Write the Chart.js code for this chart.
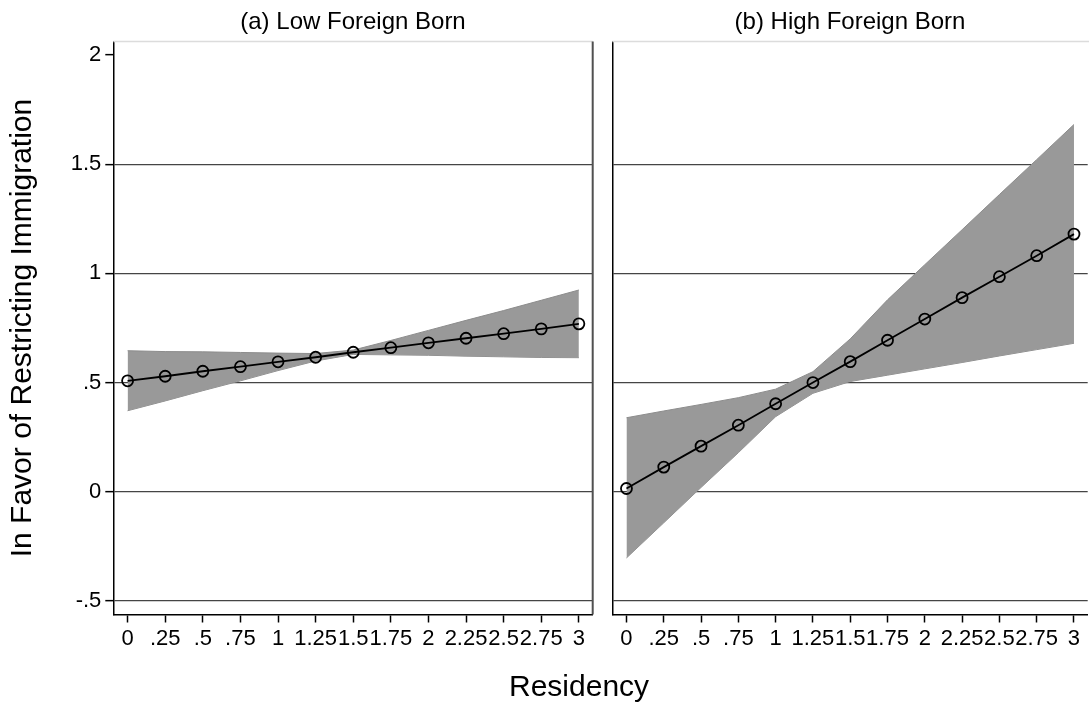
<!DOCTYPE html>
<html>
<head>
<meta charset="utf-8">
<script src="https://cdn.jsdelivr.net/npm/chart.js@4.4.1/dist/chart.umd.min.js"></script>
<style>
  html, body { margin: 0; padding: 0; background: #fff; overflow: hidden; }
  #wrap { position: relative; width: 1089px; height: 704px; overflow: hidden; }
  #left { position: absolute; left: 0; top: 0; }
  #right { position: absolute; left: 600px; top: 0; }
  #xtitle {
    position: absolute; left: 509px; top: 669px;
    line-height: 1; color: #000; white-space: nowrap;
    font: 30px "Liberation Sans", Arial, sans-serif;
  }
</style>
</head>
<body>
<div id="wrap">
  <canvas id="left" width="600" height="704"></canvas>
  <canvas id="right" width="495" height="704"></canvas>
  <div id="xtitle">Residency</div>
</div>
<script>
// x values (residency) and their tick labels
const residency = [0, 0.25, 0.5, 0.75, 1, 1.25, 1.5, 1.75, 2, 2.25, 2.5, 2.75, 3]
const xTickLabels = ['0', '.25', '.5', '.75', '1', '1.25', '1.5', '1.75', '2', '2.25', '2.5', '2.75', '3']
const yTicks = [-0.5, 0, 0.5, 1, 1.5, 2]
const yTickLabels = ['-.5', '0', '.5', '1', '1.5', '2']

// (a) Low Foreign Born
const lowPred  = [0.508, 0.529, 0.552, 0.573, 0.595, 0.616, 0.639, 0.660, 0.682, 0.703, 0.724, 0.746, 0.769]
const lowUpper = [0.646, 0.642, 0.641, 0.638, 0.635, 0.633, 0.649, 0.693, 0.739, 0.785, 0.830, 0.877, 0.924]
const lowLower = [0.371, 0.416, 0.463, 0.508, 0.555, 0.599, 0.629, 0.627, 0.625, 0.621, 0.618, 0.615, 0.614]

// (b) High Foreign Born
const highPred  = [0.015, 0.113, 0.209, 0.305, 0.403, 0.500, 0.596, 0.694, 0.791, 0.889, 0.985, 1.081, 1.180]
const highUpper = [0.339, 0.370, 0.400, 0.431, 0.470, 0.550, 0.700, 0.879, 1.040, 1.200, 1.361, 1.521, 1.682]
const highLower = [-0.303, -0.142, 0.020, 0.179, 0.344, 0.451, 0.505, 0.534, 0.563, 0.592, 0.622, 0.651, 0.680]

const FONT = '"Liberation Sans", Arial, sans-serif'

const toPoints = (ys) => residency.map((x, i) => ({ x: x, y: ys[i] }))

// panel title + top frame line (+ right edge for the left panel)
const panelDecor = {
  id: 'panelDecor',
  afterDraw(chart, args, opts) {
    const { ctx, chartArea: a } = chart
    ctx.save()
    ctx.strokeStyle = '#dcdcdc'
    ctx.lineWidth = 1.5
    ctx.beginPath()
    ctx.moveTo(a.left, a.top)
    ctx.lineTo(opts.rightEdge ? a.right : chart.width, a.top)
    ctx.stroke()
    if (opts.rightEdge) {
      ctx.strokeStyle = '#505050'
      ctx.lineWidth = 2
      ctx.beginPath()
      ctx.moveTo(a.right, a.top)
      ctx.lineTo(a.right, a.bottom)
      ctx.stroke()
    }
    ctx.fillStyle = '#000'
    ctx.font = '24px ' + FONT
    ctx.textAlign = 'center'
    ctx.textBaseline = 'alphabetic'
    ctx.fillText(opts.title, (a.left + a.right) / 2, 29)
    ctx.restore()
  }
}

function makePanel(id, title, pred, upper, lower, isLeft) {
  const ctx = document.getElementById(id).getContext('2d')
  return new Chart(ctx, {
    type: 'line',
    data: {
      datasets: [{
        label: 'Prediction',
        data: toPoints(pred),
        borderColor: '#000',
        borderWidth: 1.8,
        tension: 0,
        fill: false,
        pointRadius: 5.5,
        pointBorderWidth: 1.8,
        pointBorderColor: '#000',
        pointBackgroundColor: 'rgba(0,0,0,0)'
      }, {
        label: 'Upper',
        data: toPoints(upper),
        borderColor: '#8c8c8c',
        borderWidth: 1,
        backgroundColor: '#999999',
        pointRadius: 0,
        tension: 0,
        fill: '+1'
      }, {
        label: 'Lower',
        data: toPoints(lower),
        borderColor: '#8c8c8c',
        borderWidth: 1,
        pointRadius: 0,
        tension: 0,
        fill: false
      }]
    },
    options: {
      responsive: false,
      animation: false,
      layout: {
        padding: { top: 41.5, right: isLeft ? 6 : 2.4, bottom: 0, left: 0 }
      },
      plugins: {
        legend: { display: false },
        tooltip: { enabled: false },
        panelDecor: { title: title, rightEdge: isLeft }
      },
      scales: {
        x: {
          type: 'linear',
          min: -0.095,
          max: 3.092,
          afterBuildTicks: (scale) => { scale.ticks = residency.map(v => ({ value: v })) },
          afterFit: (scale) => { scale.height = 89.5 },
          border: { display: true, color: '#000', width: 1.5 },
          grid: {
            drawOnChartArea: false,
            drawTicks: true,
            tickLength: 8,
            tickColor: '#000',
            tickWidth: 1.5
          },
          ticks: {
            autoSkip: false,
            maxRotation: 0,
            padding: 3,
            color: '#000',
            font: { size: 22, family: FONT },
            callback: (value, index) => xTickLabels[index]
          }
        },
        y: {
          type: 'linear',
          min: -0.562,
          max: 2.062,
          afterBuildTicks: (scale) => { scale.ticks = yTicks.map(v => ({ value: v })) },
          afterFit: (scale) => { scale.width = isLeft ? 113.3 : 12.3 },
          border: { display: true, color: '#000', width: 1.5 },
          grid: {
            drawOnChartArea: true,
            drawTicks: isLeft,
            tickLength: 8,
            tickColor: '#000',
            tickWidth: 1.5,
            color: (c) => (c.tick && c.tick.value === 2) ? 'rgba(0,0,0,0)' : '#454545',
            lineWidth: 1.3
          },
          ticks: {
            display: isLeft,
            padding: 4,
            color: '#000',
            font: { size: 22, family: FONT },
            callback: (value, index) => yTickLabels[index]
          },
          title: {
            display: isLeft,
            text: 'In Favor of Restricting Immigration',
            color: '#000',
            font: { size: 30, family: FONT },
            padding: { top: 5, bottom: 0 }
          }
        }
      }
    },
    plugins: [panelDecor]
  })
}

makePanel('left', '(a) Low Foreign Born', lowPred, lowUpper, lowLower, true)
makePanel('right', '(b) High Foreign Born', highPred, highUpper, highLower, false)
</script>
</body>
</html>
